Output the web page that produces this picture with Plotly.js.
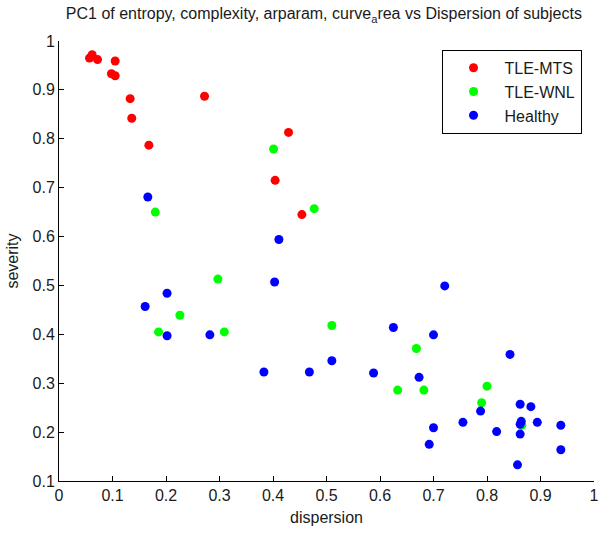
<!DOCTYPE html>
<html>
<head>
<meta charset="utf-8">
<script src="https://cdn.plot.ly/plotly-3.0.1.min.js"></script>
<style>html,body{margin:0;padding:0;background:#fff;}#chart{width:602px;height:534px;}</style>
</head>
<body>
<div id="chart"></div>
<script>
const mtsX = [0.057, 0.062, 0.072, 0.105, 0.098, 0.105, 0.133, 0.136, 0.168, 0.272, 0.429, 0.404, 0.454];
const mtsY = [0.965, 0.972, 0.962, 0.959, 0.933, 0.929, 0.882, 0.842, 0.787, 0.887, 0.813, 0.715, 0.645];

const wnlX = [0.401, 0.180, 0.477, 0.297, 0.226, 0.186, 0.309, 0.510, 0.668, 0.633, 0.682, 0.800, 0.790, 0.865];
const wnlY = [0.779, 0.650, 0.657, 0.513, 0.439, 0.405, 0.405, 0.418, 0.371, 0.286, 0.286, 0.294, 0.260, 0.214];

const hX = [0.166, 0.411, 0.403, 0.161, 0.202, 0.202, 0.282, 0.383, 0.468, 0.510, 0.721, 0.625, 0.700, 0.843,
            0.588, 0.673, 0.862, 0.882, 0.788, 0.755, 0.864, 0.862, 0.894, 0.938, 0.700, 0.818, 0.862, 0.692, 0.938, 0.857];
const hY = [0.681, 0.594, 0.507, 0.457, 0.484, 0.397, 0.399, 0.323, 0.323, 0.346, 0.499, 0.414, 0.399, 0.359,
            0.321, 0.312, 0.257, 0.252, 0.243, 0.220, 0.222, 0.216, 0.220, 0.214, 0.209, 0.201, 0.196, 0.175, 0.164, 0.133];

const seriesNames = ['TLE-MTS', 'TLE-WNL', 'Healthy'];
const xTicks = [0, 0.1, 0.2, 0.3, 0.4, 0.5, 0.6, 0.7, 0.8, 0.9, 1];
const xTickText = ['0', '0.1', '0.2', '0.3', '0.4', '0.5', '0.6', '0.7', '0.8', '0.9', '1'];
const yTicks = [0.1, 0.2, 0.3, 0.4, 0.5, 0.6, 0.7, 0.8, 0.9, 1];
const yTickText = ['0.1', '0.2', '0.3', '0.4', '0.5', '0.6', '0.7', '0.8', '0.9', '1'];

const FONT = 'Liberation Sans, Arial, sans-serif';
const FS = 16;
const TXT = '#1a1a1a';
function mk(x, y, name, color) {
  return {x: x, y: y, name: name, type: 'scatter', mode: 'markers',
    marker: {color: color, size: 9, symbol: 'circle', line: {width: 0}}};
}
const data = [
  mk(mtsX, mtsY, seriesNames[0], '#ff0000'),
  mk(wnlX, wnlY, seriesNames[1], '#00ff00'),
  mk(hX, hY, seriesNames[2], '#0000ff')
];
const axisCommon = {
  showgrid: false, zeroline: false, showline: true, linecolor: '#000', linewidth: 1,
  ticks: 'inside', ticklen: 5, tickcolor: '#000', tickwidth: 1, automargin: false,
  tickfont: {family: FONT, size: FS, color: TXT}, mirror: false
};
const layout = {
  width: 602, height: 534,
  margin: {l: 59, r: 8, t: 41, b: 53},
  paper_bgcolor: '#fff', plot_bgcolor: '#fff',
  font: {family: FONT, size: FS, color: TXT},
  title: {text: 'PC1 of entropy, complexity, arparam, curve<sub>a</sub>rea vs Dispersion of subjects',
          font: {family: FONT, size: FS, color: TXT}, x: 0.538, xanchor: 'center', y: 0.974, yanchor: 'middle'},
  xaxis: Object.assign({}, axisCommon, {range: [0, 1], tickvals: xTicks, ticktext: xTickText,
          title: {text: 'dispersion', font: {family: FONT, size: FS, color: TXT}, standoff: 8}}),
  yaxis: Object.assign({}, axisCommon, {range: [0.1, 1], tickvals: yTicks, ticktext: yTickText,
          title: {text: 'severity', font: {family: FONT, size: FS, color: TXT}, standoff: 9}}),
  showlegend: true,
  legend: {x: 0.715, y: 0.98, xanchor: 'left', yanchor: 'top', bgcolor: '#fff',
           bordercolor: '#000', borderwidth: 1, font: {family: FONT, size: FS, color: TXT},
           itemwidth: 52}
};
Plotly.newPlot('chart', data, layout, {displayModeBar: false, staticPlot: true});
</script>
</body>
</html>
